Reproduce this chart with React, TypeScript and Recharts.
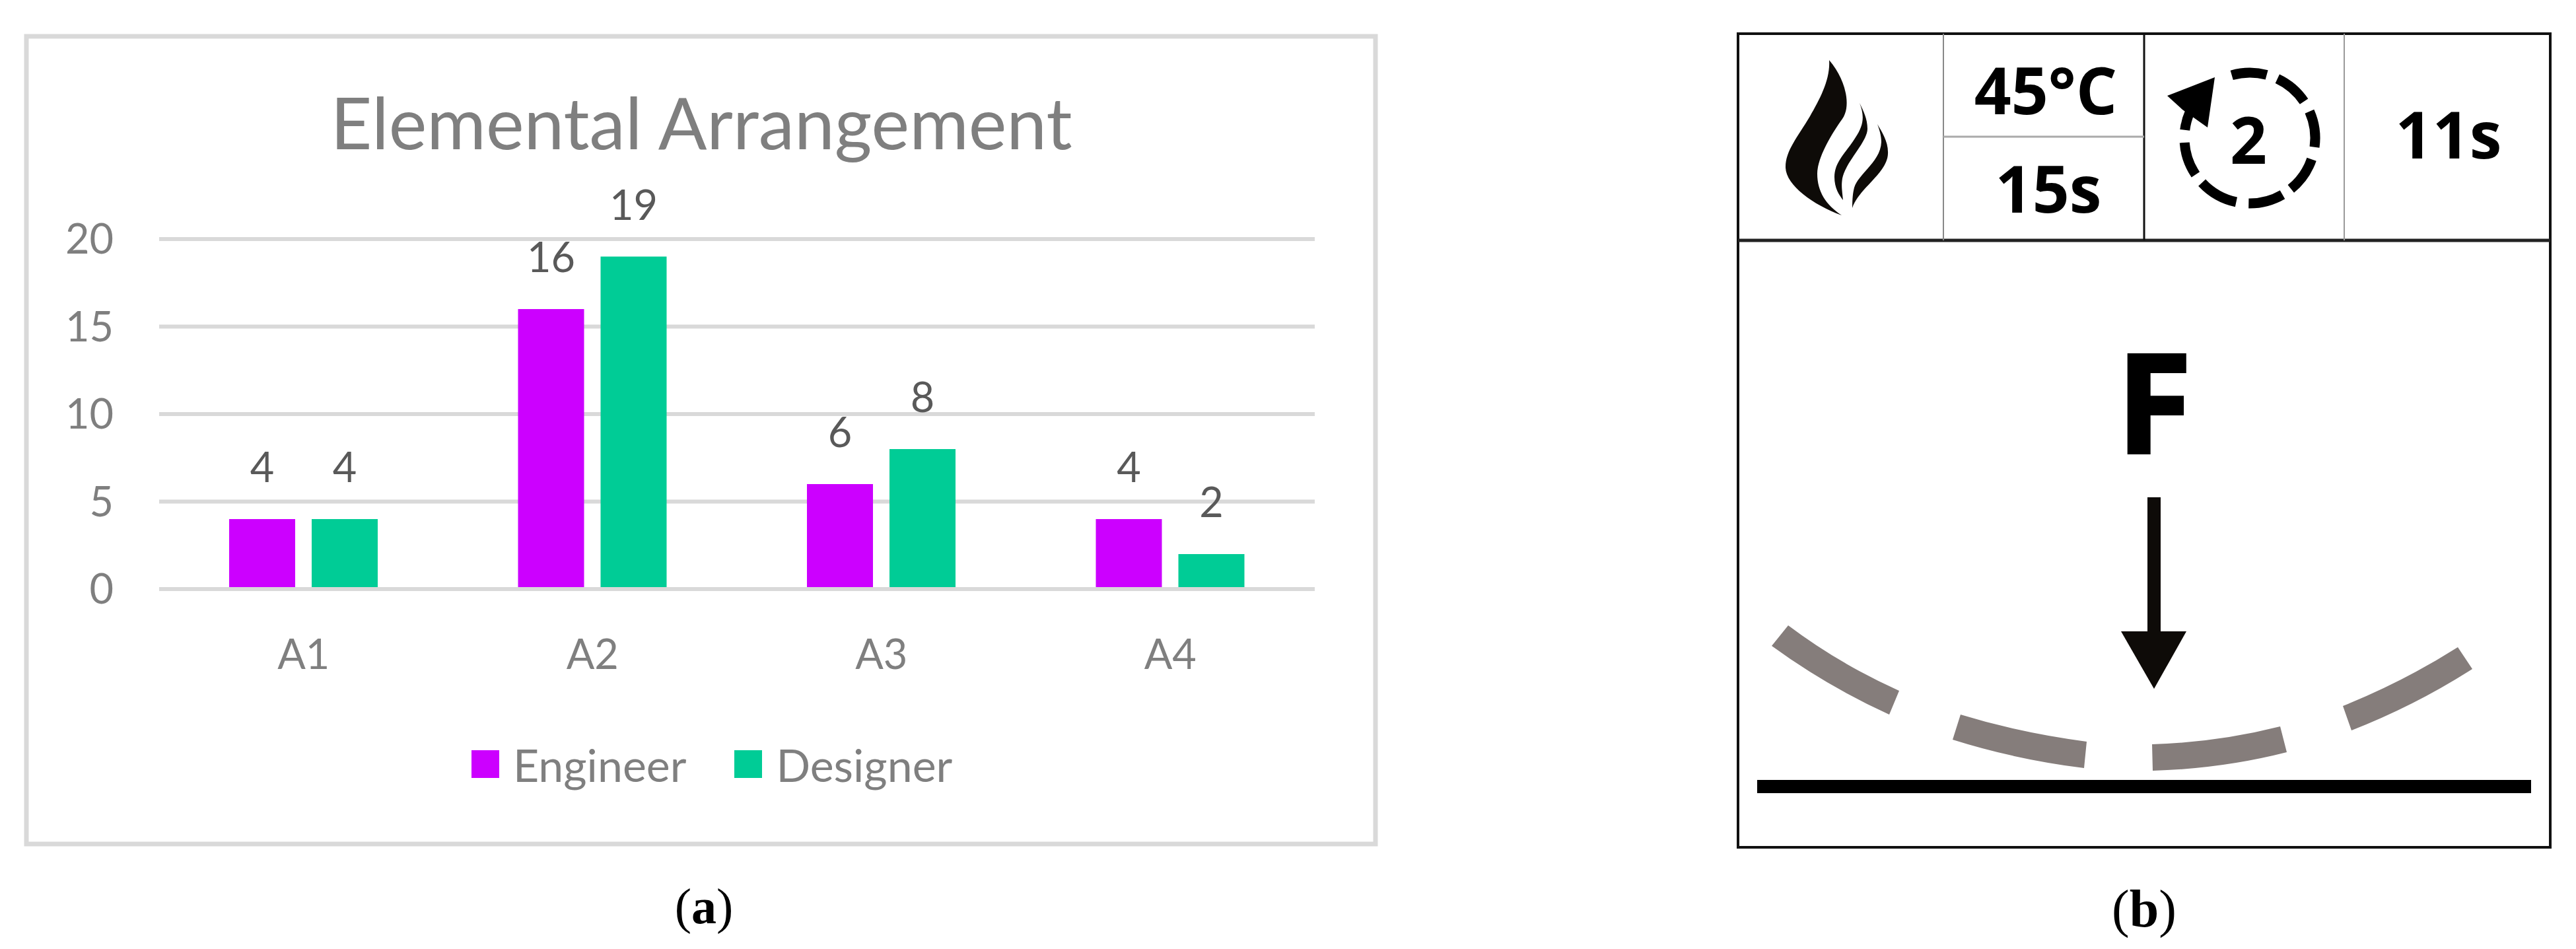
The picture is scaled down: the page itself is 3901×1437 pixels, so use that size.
import { BarChart, Bar, XAxis, YAxis, CartesianGrid, Legend, LabelList } from "recharts"

const categories = ["A1", "A2", "A3", "A4"]
const engineer = [4, 16, 6, 4]
const designer = [4, 19, 8, 2]
const yTicks = [0, 5, 10, 15, 20]

const chartData = categories.map((name, i) => ({ name, Engineer: engineer[i], Designer: designer[i] }))

const LABEL_FONT = "Lato"
const ICON_FONT = "'Open Sans'"

// clockwise degrees from 12 o'clock for the dashes of the cycle ring
const ringDashes = [
  [-16, 15], [25, 56], [66, 98], [109, 141], [150, 181], [192, 227], [236, 266], [277, 294],
]

// pieces of the bent sheet, left to right
const sheetPieces = [
  "M2708 947 Q2785 1005 2876 1046 L2861 1082 Q2765 1038 2683 978 Z",
  "M2969 1082 Q3060 1110 3160 1123 L3156 1163 Q3052 1150 2957 1120 Z",
  "M3259 1127 Q3358 1124 3453 1100 L3463 1139 Q3365 1164 3260 1167 Z",
  "M3548 1069 Q3640 1032 3722 980 L3744 1013 Q3658 1068 3561 1106 Z",
]

const flamePaths = [
  "M2770 91 C2772 120 2756 150 2741 176 C2722 208 2704 228 2704 253 C2704 280 2745 310 2789 326 C2765 310 2752 290 2752 263 C2752 240 2772 205 2790 180 C2804 160 2795 120 2770 91 Z",
  "M2816 156 C2824 176 2822 190 2810 208 C2795 232 2778 245 2778 268 C2778 285 2785 295 2791 303 C2790 290 2788 283 2790 270 C2795 245 2828 215 2828 195 C2828 180 2822 168 2816 156 Z",
  "M2843 188 C2850 200 2860 215 2859 233 C2858 262 2815 285 2805 315 C2805 300 2806 292 2808 284 C2815 262 2848 245 2849 215 C2849 205 2846 196 2843 188 Z",
]

function ringArc(cx: number, cy: number, r: number, from: number, to: number) {
  const pt = (a: number) => {
    const t = (a * Math.PI) / 180
    return `${cx + r * Math.sin(t)} ${cy - r * Math.cos(t)}`
  }
  return `M${pt(from)} A${r} ${r} 0 0 1 ${pt(to)}`
}

function ProcessPanel() {
  const bold = { fontFamily: ICON_FONT, fontWeight: 700, fill: "#000", textAnchor: "middle" as const }
  return (
    <svg width={3901} height={1437} style={{ position: "absolute", left: 0, top: 0, pointerEvents: "none" }}>
      <rect x={2632} y={51} width={1230} height={1232} fill="none" stroke="#111" strokeWidth={4} />
      <line x1={2632} x2={3862} y1={364} y2={364} stroke="#222" strokeWidth={5} />
      <line x1={2943} x2={2943} y1={51} y2={364} stroke="#888" strokeWidth={2} />
      <line x1={3247} x2={3247} y1={51} y2={364} stroke="#111" strokeWidth={3} />
      <line x1={3550} x2={3550} y1={51} y2={364} stroke="#999" strokeWidth={2} />
      <line x1={2943} x2={3247} y1={207} y2={207} stroke="#aaa" strokeWidth={3} />

      {flamePaths.map((d) => (
        <path key={d} d={d} fill="#0e0b08" />
      ))}

      <text x={3098} y={173} fontSize={98} {...bold}>45°C</text>
      <text x={3102} y={322} fontSize={98} {...bold}>15s</text>
      <text x={3708} y={240} fontSize={98} {...bold}>11s</text>

      {/* cycle ring */}
      {ringDashes.map(([a, b], i) => (
        <path key={i} d={ringArc(3407, 209, 99, a, b)} fill="none" stroke="#000" strokeWidth={15} />
      ))}
      <polygon points="3354,117 3282,145 3305,166 3343,193" fill="#000" />
      <text x={3405} y={248} fontSize={98} {...bold}>2</text>

      <text x={3262} y={686} fontSize={208} stroke="#000" strokeWidth={4} {...bold}>F</text>
      <rect x={3252} y={753} width={20} height={205} fill="#0e0b08" />
      <polygon points="3212,956 3311,956 3262,1043" fill="#0e0b08" />

      {sheetPieces.map((d) => (
        <path key={d} d={d} fill="#857d7b" />
      ))}
      <rect x={2661} y={1181} width={1172} height={20} fill="#000" />

      <text x={3247} y={1403} fontSize={80} fontFamily="'Liberation Serif'" textAnchor="middle" fill="#000">
        (<tspan fontWeight={700}>b</tspan>)
      </text>
    </svg>
  )
}

function LegendRow({ payload }: any) {
  return (
    <div style={{ display: "flex", alignItems: "center", height: 84, fontFamily: LABEL_FONT, fontSize: 68, color: "#7f7f7f" }}>
      {(payload || []).map((item: any) => (
        <div key={item.value} style={{ display: "flex", alignItems: "center", marginRight: 73 }}>
          <div style={{ width: 42, height: 42, background: item.color, marginRight: 21 }} />
          <span>{item.value}</span>
        </div>
      ))}
    </div>
  )
}

export default function App() {
  return (
    <div style={{ position: "absolute", left: 0, top: 0, width: 3901, height: 1437, background: "#fff", overflow: "hidden" }}>
      <BarChart
        width={2200}
        height={1437}
        data={chartData}
        margin={{ top: 362, right: 209, bottom: 445, left: 0 }}
        barSize={100}
        barGap={25}
        style={{ fontFamily: LABEL_FONT }}
      >
        <rect x={40} y={55} width={2043} height={1223} fill="none" stroke="#d9d9d9" strokeWidth={7} />
        <text x={1062} y={226} fontSize={109} textAnchor="middle" fill="#7f7f7f" fontFamily={LABEL_FONT}>
          Elemental Arrangement
        </text>
        <CartesianGrid vertical={false} stroke="#d9d9d9" strokeWidth={6} />
        <XAxis
          dataKey="name"
          height={100}
          axisLine={{ stroke: "#d9d9d9", strokeWidth: 6 }}
          tickLine={false}
          tickMargin={70}
          tick={{ fontSize: 63, fill: "#7f7f7f" }}
        />
        <YAxis
          width={241}
          domain={[0, 20]}
          ticks={yTicks}
          axisLine={false}
          tickLine={false}
          tickMargin={63}
          tick={{ fontSize: 63, fill: "#7f7f7f" }}
        />
        <Legend
          layout="horizontal"
          align="center"
          verticalAlign="middle"
          itemSorter={null}
          content={<LegendRow />}
          wrapperStyle={{ left: 714, top: 1115, width: 900 }}
        />
        <Bar dataKey="Engineer" fill="#cc00ff" isAnimationActive={false}>
          <LabelList dataKey="Engineer" position="top" offset={56} fontSize={63} fill="#595959" />
        </Bar>
        <Bar dataKey="Designer" fill="#00cc96" isAnimationActive={false}>
          <LabelList dataKey="Designer" position="top" offset={56} fontSize={63} fill="#595959" />
        </Bar>
        <text x={1066} y={1398} fontSize={76} fontFamily="'Liberation Serif'" textAnchor="middle" fill="#000">
          (<tspan fontWeight={700}>a</tspan>)
        </text>
      </BarChart>
      <ProcessPanel />
    </div>
  )
}
